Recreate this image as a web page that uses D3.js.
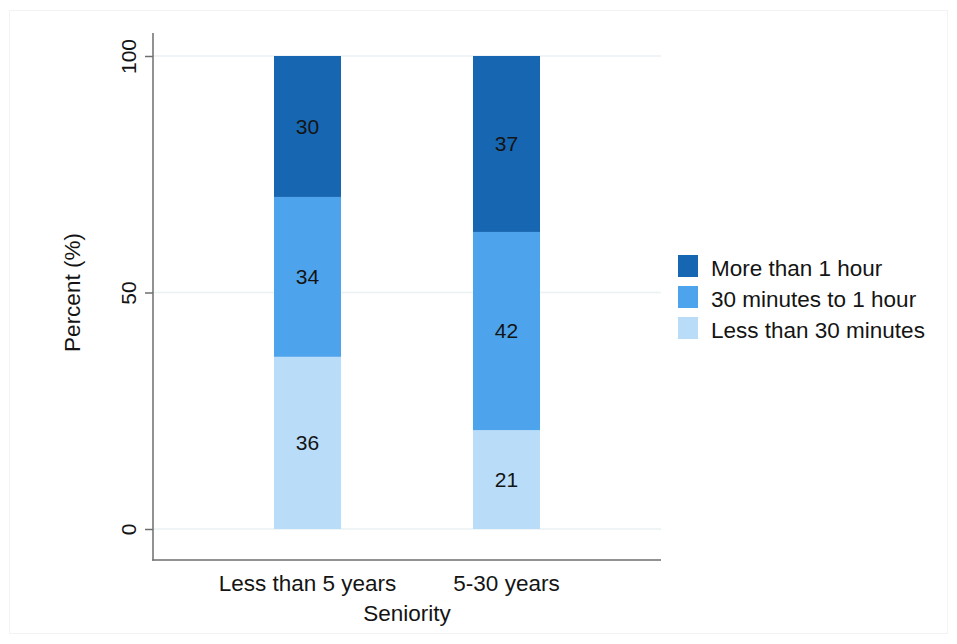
<!DOCTYPE html>
<html>
<head>
<meta charset="utf-8">
<script src="https://cdn.jsdelivr.net/npm/d3@7"></script>
<style>
  html, body { margin: 0; padding: 0; background: #ffffff; }
  svg { display: block; font-family: Arial, "Liberation Sans", sans-serif; }
</style>
</head>
<body>
<svg id="chart" width="957" height="644"></svg>
<script>
// ---- Data ----
const categories = ["Less than 5 years", "5-30 years"];
const seriesNames = ["Less than 30 minutes", "30 minutes to 1 hour", "More than 1 hour"];
const lessThan30 = [36.4, 20.9];
const min30to1h = [33.8, 41.9];
const moreThan1h = [29.8, 37.2];
const yTicks = [0, 50, 100];
const colors = ["#b9dcf8", "#4ea4ec", "#1766b1"];
const xTitle = "Seniority";
const yTitle = "Percent (%)";

const seriesValues = [lessThan30, min30to1h, moreThan1h];
const table = categories.map((c, i) => {
  const row = { category: c };
  seriesNames.forEach((s, j) => { row[s] = seriesValues[j][i]; });
  return row;
});

// ---- Layout ----
const FONT = "Arial, 'Liberation Sans', sans-serif";
const svg = d3.select("#chart");
const W = 957, H = 644;
const plot = { left: 153, right: 661, top: 33, bottom: 560 };
const TXT = "#141414";

// faint outer frame
svg.append("rect")
  .attr("x", 9.5).attr("y", 10.5)
  .attr("width", W - 19).attr("height", H - 21)
  .attr("fill", "none").attr("stroke", "#f3f3f3").attr("stroke-width", 1);

const x = d3.scaleBand()
  .domain(categories)
  .range([plot.left, plot.right])
  .paddingInner(0.6633)
  .paddingOuter(0.608);

const y = d3.scaleLinear().domain([0, 100]).range([529, 56]);

// grid
svg.append("g").selectAll("line").data(yTicks).join("line")
  .attr("x1", plot.left).attr("x2", plot.right)
  .attr("y1", d => y(d)).attr("y2", d => y(d))
  .attr("stroke", "#eaf2f3").attr("stroke-width", 1.5);

// stacked bars
const stack = d3.stack().keys(seriesNames)(table);
const layers = svg.append("g").selectAll("g").data(stack).join("g")
  .attr("fill", (d, i) => colors[i]);
layers.selectAll("rect").data(d => d).join("rect")
  .attr("x", d => x(d.data.category))
  .attr("width", x.bandwidth())
  .attr("y", d => y(d[1]))
  .attr("height", d => y(d[0]) - y(d[1]));

// segment labels
layers.selectAll("text").data(d => d).join("text")
  .attr("x", d => x(d.data.category) + x.bandwidth() / 2)
  .attr("y", d => y((d[0] + d[1]) / 2))
  .attr("dy", "0.35em")
  .attr("text-anchor", "middle")
  .attr("fill", TXT)
  .attr("font-size", 21)
  .text(d => Math.round(d[1] - d[0]));

// y axis
const yAxis = d3.axisLeft(y).tickValues(yTicks).tickSize(8).tickPadding(4).tickFormat(d3.format("d"));
const gy = svg.append("g").attr("transform", `translate(${plot.left},0)`).call(yAxis);
gy.attr("font-family", FONT);
gy.select(".domain").remove();
gy.selectAll(".tick line").attr("stroke", "#6e6e6e").attr("stroke-width", 1.5);
gy.selectAll(".tick text")
  .attr("font-size", 21).attr("fill", TXT)
  .attr("transform", "rotate(-90, -24.5, 0)")
  .attr("x", -24.5).attr("y", 0).attr("dy", "0.35em")
  .attr("text-anchor", "middle");
svg.append("line")
  .attr("x1", plot.left).attr("x2", plot.left)
  .attr("y1", plot.top).attr("y2", plot.bottom + 0.75)
  .attr("stroke", "#6e6e6e").attr("stroke-width", 1.5);

// x axis
const xAxis = d3.axisBottom(x).tickSize(0).tickPadding(15);
const gx = svg.append("g").attr("transform", `translate(0,${plot.bottom})`).call(xAxis);
gx.attr("font-family", FONT);
gx.select(".domain").remove();
gx.selectAll(".tick text").attr("font-size", 22.5).attr("fill", TXT);
svg.append("line")
  .attr("x1", plot.left - 0.75).attr("x2", plot.right)
  .attr("y1", plot.bottom).attr("y2", plot.bottom)
  .attr("stroke", "#6e6e6e").attr("stroke-width", 1.5);

// axis titles
svg.append("text")
  .attr("x", (plot.left + plot.right) / 2).attr("y", 620.5)
  .attr("text-anchor", "middle").attr("font-size", 22.5).attr("fill", TXT)
  .text(xTitle);
svg.append("text")
  .attr("transform", `translate(72, ${(y(0) + y(100)) / 2}) rotate(-90)`)
  .attr("dy", "0.35em")
  .attr("text-anchor", "middle").attr("font-size", 22.5).attr("fill", TXT)
  .text(yTitle);

// legend (top to bottom: reverse order of stack)
const legendItems = seriesNames.map((s, i) => ({ name: s, color: colors[i] })).reverse();
const lg = svg.append("g").selectAll("g").data(legendItems).join("g")
  .attr("transform", (d, i) => `translate(678, ${255 + i * 31})`);
lg.append("rect").attr("width", 20).attr("height", 22).attr("fill", d => d.color);
lg.append("text").attr("x", 33).attr("y", 21)
  .attr("font-size", 22.5).attr("fill", TXT).text(d => d.name);
</script>
</body>
</html>
